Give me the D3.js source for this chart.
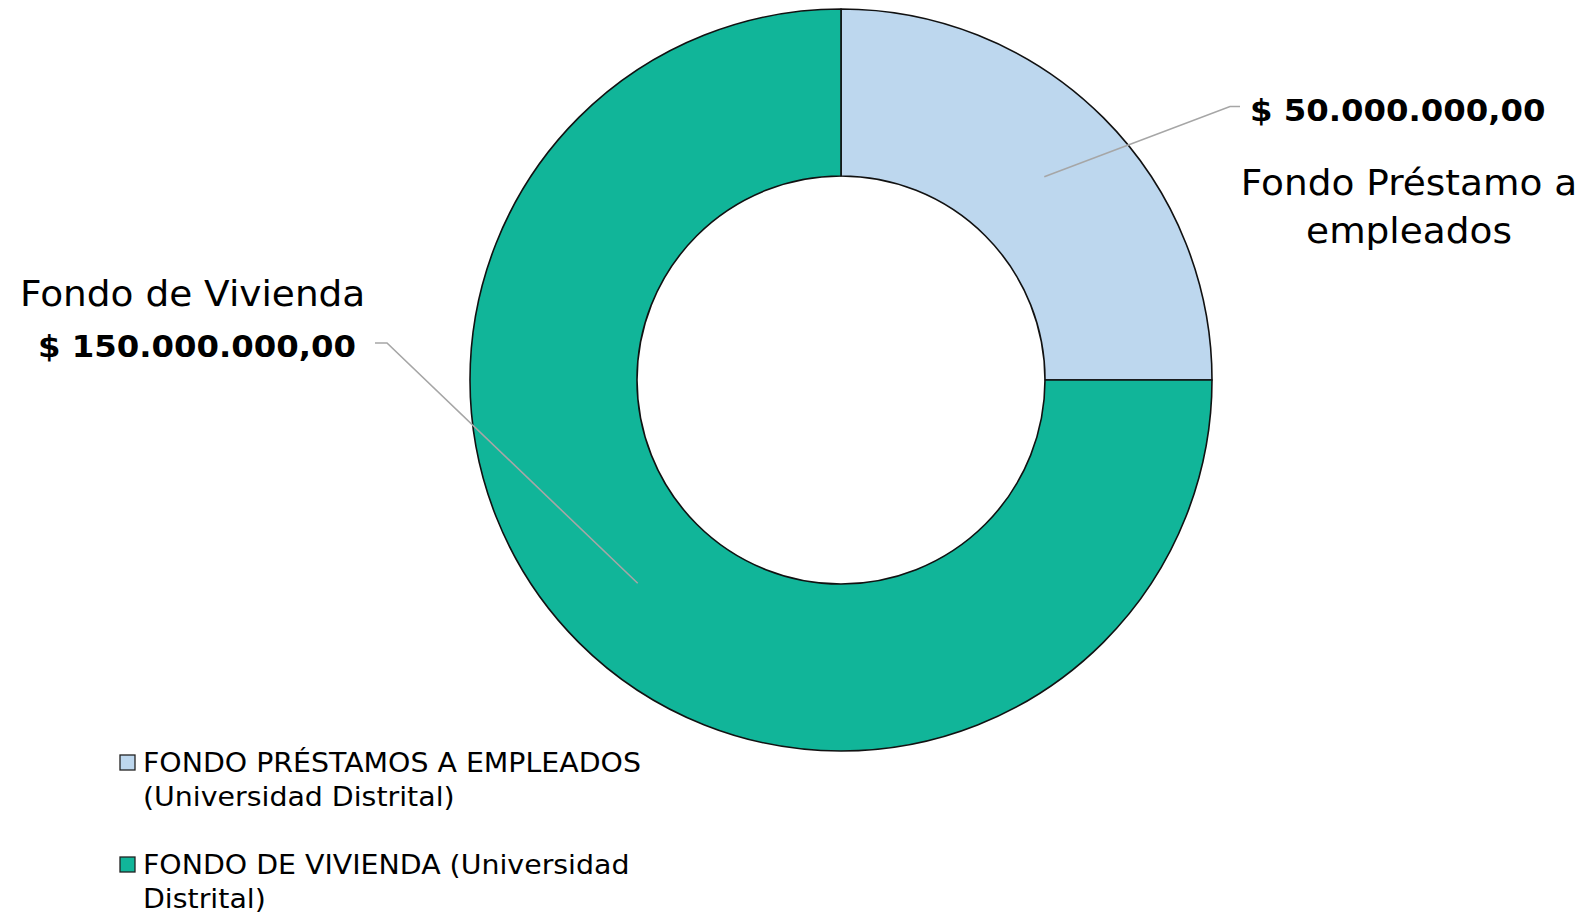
<!DOCTYPE html>
<html>
<head>
<meta charset="utf-8">
<script src="https://cdn.jsdelivr.net/npm/d3@7"></script>
<style>
  html, body { margin: 0; padding: 0; background: #fff; }
  svg { display: block; font-family: "DejaVu Sans", Verdana, sans-serif; }
</style>
</head>
<body>
<svg id="chart" width="1587" height="915"></svg>
<script>
// Fondos de la Universidad Distrital
const categories = ["FONDO PRÉSTAMOS A EMPLEADOS (Universidad Distrital)", "FONDO DE VIVIENDA (Universidad Distrital)"];
const shortNames = [["Fondo Préstamo a", "empleados"], ["Fondo de Vivienda"]];
const values = [50000000, 150000000];
const colors = ["#BDD7EE", "#11B599"];
const legendLines = [["FONDO PRÉSTAMOS A EMPLEADOS", "(Universidad Distrital)"], ["FONDO DE VIVIENDA (Universidad", "Distrital)"]];

// Colombian peso format: $ 50.000.000,00
const locale = d3.formatLocale({ decimal: ",", thousands: ".", grouping: [3], currency: ["$ ", ""] });
const fmt = locale.format("$,.2f");

const svg = d3.select("#chart");
const cx = 841, cy = 380;
const outerR = 371, innerR = 204;

// Text drawn slightly wider than the fallback face
function label(parent, x, y, txt, opts) {
  const sx = opts.sx || 1.07;
  const t = parent.append("text")
    .attr("transform", `translate(${x},${y}) scale(${sx},1)`)
    .attr("font-size", opts.size)
    .attr("font-weight", opts.bold ? "bold" : "normal")
    .attr("text-anchor", opts.anchor || "start")
    .attr("fill", "#000")
    .text(txt);
  return t;
}

const pie = d3.pie().sort(null).value(d => d.value);
const data = pie(values.map((v, i) => ({ value: v, i })));
const arc = d3.arc().innerRadius(innerR).outerRadius(outerR);

const g = svg.append("g").attr("transform", `translate(${cx},${cy})`);
g.selectAll("path.slice")
  .data(data)
  .join("path")
  .attr("class", "slice")
  .attr("d", arc)
  .attr("fill", d => colors[d.data.i])
  .attr("stroke", "#111")
  .attr("stroke-width", 1.6)
  .attr("stroke-linejoin", "round");

// Leader lines from each slice centroid to its label
const labelElbows = [
  { elbow: [389, -273.5], end: [399, -273.5] },
  { elbow: [-454, -37], end: [-466, -37] }
];
data.forEach((d, k) => {
  const c = arc.centroid(d);
  const p = labelElbows[k];
  g.append("polyline")
    .attr("points", [c, p.elbow, p.end].map(q => q.join(",")).join(" "))
    .attr("fill", "none")
    .attr("stroke", "#A6A6A6")
    .attr("stroke-width", 1.6);
});

// Right label: value then category name
const rl = svg.append("g");
label(rl, 1250, 121, fmt(values[0]), { size: 30, bold: true, sx: 1.078 });
shortNames[0].forEach((s, j) => {
  label(rl, 1409, 195 + j * 48, s, { size: 35, anchor: "middle", sx: 1.07 });
});

// Left label: category name then value
const ll = svg.append("g");
label(ll, 20, 306, shortNames[1][0], { size: 35, sx: 1.07 });
label(ll, 356, 357, fmt(values[1]), { size: 30, bold: true, anchor: "end", sx: 1.078 });

// Legend
const legend = svg.append("g").attr("transform", "translate(120,755)");
categories.forEach((c, i) => {
  const item = legend.append("g").attr("transform", `translate(0,${i * 102})`);
  item.append("rect")
    .attr("width", 15).attr("height", 15)
    .attr("fill", colors[i])
    .attr("stroke", "#222").attr("stroke-width", 1.3);
  legendLines[i].forEach((line, j) => {
    label(item, 23, 17 + j * 34, line, { size: 27, sx: 1.052 });
  });
});
</script>
</body>
</html>
